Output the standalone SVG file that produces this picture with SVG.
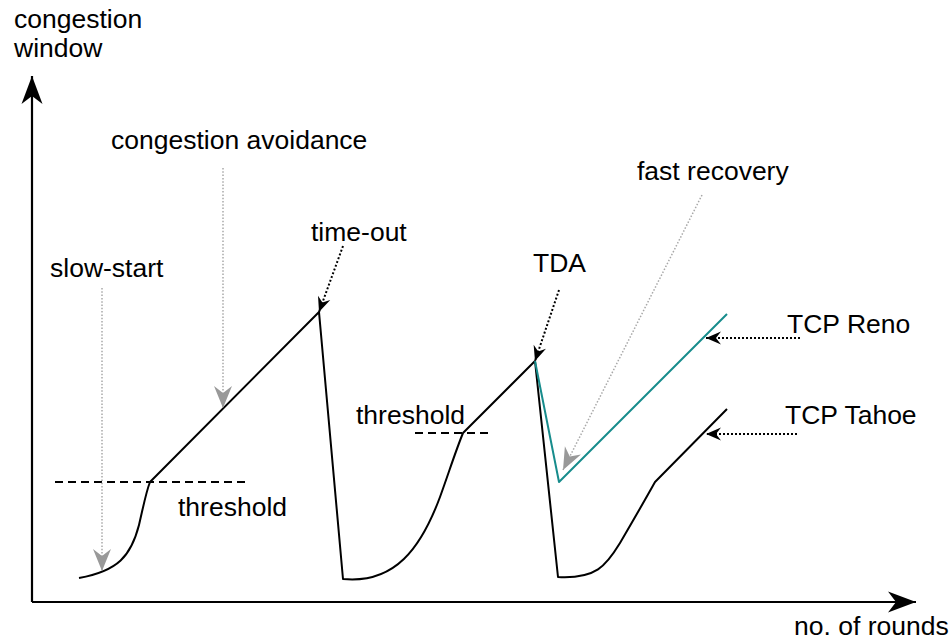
<svg xmlns="http://www.w3.org/2000/svg" width="951" height="644" viewBox="0 0 951 644">
  <style>
    text { font-family: "Liberation Sans", Arial, sans-serif; font-size: 26.5px; fill: #000; }
    .curve { fill: none; stroke: #000; stroke-width: 2; stroke-linejoin: round; }
    .reno { fill: none; stroke: #178c8c; stroke-width: 2; stroke-linejoin: round; }
    .axis { fill: none; stroke: #000; stroke-width: 2.2; }
    .dash { fill: none; stroke: #000; stroke-width: 2; stroke-dasharray: 8 5; }
    .dotk { fill: none; stroke: #000; stroke-width: 2; stroke-dasharray: 2 2; }
    .dotg { fill: none; stroke: #a8a8a8; stroke-width: 1.5; stroke-dasharray: 1.5 1.8; }
  </style>
  <defs>
    <marker id="axisHead" markerUnits="userSpaceOnUse" markerWidth="30" markerHeight="24" viewBox="-28 -12 30 24" refX="0" refY="0" orient="auto">
      <path d="M0,0 L-28,-10.5 L-20,0 L-28,10.5 Z" fill="#000"/>
    </marker>
    <marker id="blackHead" markerUnits="userSpaceOnUse" markerWidth="18" markerHeight="16" viewBox="-16 -8 18 16" refX="0" refY="0" orient="auto">
      <path d="M0,0 L-15,-6.5 L-10,0 L-15,6.5 Z" fill="#000"/>
    </marker>
    <marker id="grayHead" markerUnits="userSpaceOnUse" markerWidth="26" markerHeight="20" viewBox="-24 -10 26 20" refX="0" refY="0" orient="auto">
      <path d="M0,0 L-22,-9 L-15,0 L-22,9 Z" fill="#999"/>
    </marker>
  </defs>

  <!-- axes -->
  <g id="axes">
    <line class="axis" x1="32" y1="602" x2="32" y2="76" marker-end="url(#axisHead)"/>
    <line class="axis" x1="32" y1="602" x2="916" y2="602" marker-end="url(#axisHead)"/>
    <text x="14" y="28">congestion</text>
    <text x="14" y="57">window</text>
    <text x="794" y="635">no. of rounds</text>
  </g>

  <!-- threshold levels -->
  <g id="thresholds">
    <line class="dash" x1="55" y1="482" x2="248" y2="482"/>
    <text x="178" y="516">threshold</text>
    <line class="dash" x1="415" y1="433" x2="490" y2="433"/>
    <text x="356" y="424">threshold</text>
  </g>

  <!-- window evolution -->
  <g id="window">
    <path class="curve" d="M79,578 C118,571 131,556 139,525 C143,508 146,492 150,482 L319,312 L343,579 C395,584 421,548 440,497 C449,472 456,450 463,433 L535,361 L558,577 C596,579 606,566 620,543 C634,519 645,500 655,482 L727,409"/>
    <path class="reno" d="M535,361 L559,482 L727,314"/>
  </g>

  <!-- labels -->
  <g id="labels">
    <text x="50" y="277">slow-start</text>
    <text x="111" y="149">congestion avoidance</text>
    <text x="311" y="241">time-out</text>
    <text x="533" y="272">TDA</text>
    <text x="637" y="180">fast recovery</text>
    <text x="787" y="333">TCP Reno</text>
    <text x="785" y="424">TCP Tahoe</text>
  </g>

  <!-- pointers from labels to the curves -->
  <g id="connectors">
    <line class="dotg" x1="102" y1="288" x2="102" y2="571" marker-end="url(#grayHead)"/>
    <line class="dotg" x1="223" y1="168" x2="223" y2="408" marker-end="url(#grayHead)"/>
    <line class="dotk" x1="343" y1="246" x2="319" y2="312" marker-end="url(#blackHead)"/>
    <line class="dotk" x1="559" y1="290" x2="535" y2="361" marker-end="url(#blackHead)"/>
    <line class="dotg" x1="702" y1="195" x2="563" y2="470" marker-end="url(#grayHead)"/>
    <line class="dotk" x1="800" y1="338" x2="706" y2="338" marker-end="url(#blackHead)"/>
    <line class="dotk" x1="797" y1="434" x2="706" y2="434" marker-end="url(#blackHead)"/>
  </g>
</svg>
